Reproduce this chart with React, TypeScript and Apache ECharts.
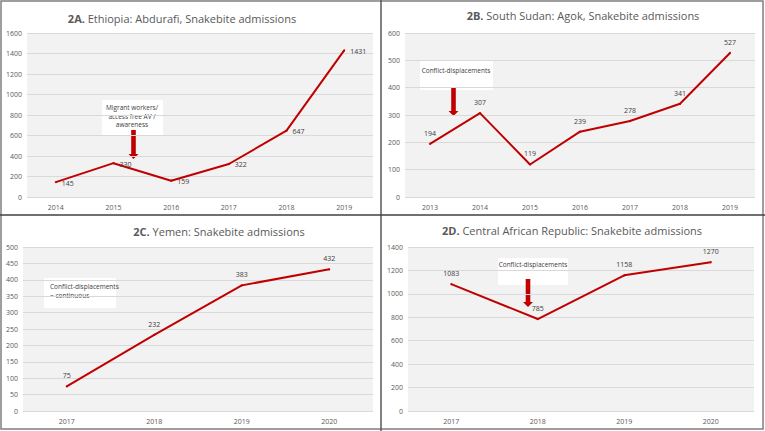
import React, { useEffect, useRef } from "react";
import * as echarts from "echarts";

const yearsA = ["2014", "2015", "2016", "2017", "2018", "2019"];
const valuesA = [145, 330, 159, 322, 647, 1431];
const yearsB = ["2013", "2014", "2015", "2016", "2017", "2018", "2019"];
const valuesB = [194, 307, 119, 239, 278, 341, 527];
const yearsC = ["2017", "2018", "2019", "2020"];
const valuesC = [75, 232, 383, 432];
const yearsD = ["2017", "2018", "2019", "2020"];
const valuesD = [1083, 785, 1158, 1270];

const titleCodes = ["2A.", "2B.", "2C.", "2D."];
const titleTexts = [
  " Ethiopia: Abdurafi, Snakebite admissions",
  " South Sudan: Agok, Snakebite admissions",
  " Yemen: Snakebite admissions",
  " Central African Republic: Snakebite admissions",
];

const RED = "#c00000";
const FONT = "'Open Sans', 'Noto Sans', sans-serif";

export default function App() {
  const ref = useRef<HTMLDivElement>(null);
  useEffect(() => {
    document.body.style.margin = "0";
    const chart = echarts.init(ref.current!, null, { renderer: "svg" });
    const grids = [
      { left: 27, top: 33, width: 346, height: 164 },
      { left: 405, top: 33, width: 350, height: 164 },
      { left: 23, top: 247, width: 350, height: 164 },
      { left: 408, top: 247, width: 346, height: 164 },
    ].map((g) => ({ ...g, show: true, backgroundColor: "#f2f2f2", borderWidth: 0 }));
    const cats = [yearsA, yearsB, yearsC, yearsD];
    const vals = [valuesA, valuesB, valuesC, valuesD];
    const ymax = [1600, 600, 500, 1400];
    const yint = [200, 100, 50, 200];
    const xAxis = cats.map((c, i) => ({
      type: "category",
      gridIndex: i,
      data: c,
      boundaryGap: true,
      axisLine: { show: false },
      axisTick: { show: false },
      axisLabel: { color: "#595959", fontSize: 7, margin: 7, fontFamily: FONT },
    }));
    const yAxis = ymax.map((m, i) => ({
      type: "value",
      gridIndex: i,
      min: 0,
      max: m,
      interval: yint[i],
      axisLine: { show: false },
      axisTick: { show: false },
      axisLabel: {
        color: "#595959",
        fontSize: 7,
        margin: 5,
        fontFamily: FONT,
        formatter: (v: number) => String(v),
      },
      splitLine: { lineStyle: { color: "#d9d9d9", width: 1 } },
    }));
    const series = vals.map((v, i) => ({
      type: "line",
      xAxisIndex: i,
      yAxisIndex: i,
      data: v,
      symbol: "circle",
      symbolSize: 2,
      showSymbol: true,
      showAllSymbol: true,
      itemStyle: { color: RED },
      lineStyle: { color: RED, width: 2 },
      label: {
        show: true,
        position: i === 0 ? "right" : "top",
        distance: i === 0 ? 5 : 6,
        offset: i === 0 ? [0, 1] : [0, 0],
        color: "#404040",
        fontSize: 7,
        fontFamily: FONT,
        opacity: 1,
      },
    }));
    const titlePos = [
      [182, 18],
      [583, 15],
      [219, 231],
      [572, 230],
    ];
    const titles = titlePos.map((p, i) => ({
      type: "text",
      x: p[0],
      y: p[1],
      style: {
        text: `{b|${titleCodes[i]}}{n|${titleTexts[i]}}`,
        align: "center",
        verticalAlign: "middle",
        rich: {
          b: { fontSize: 11, fontWeight: "bold", fill: "#595959", fontFamily: FONT },
          n: { fontSize: 11, fill: "#595959", fontFamily: FONT },
        },
      },
    }));
    const arrow = (cx: number, y0: number, y1: number) => [
      { type: "rect", shape: { x: cx - 2.3, y: y0, width: 4.6, height: y1 - y0 - 4 }, style: { fill: RED } },
      {
        type: "polygon",
        shape: { points: [[cx - 5, y1 - 5], [cx + 5, y1 - 5], [cx, y1]] },
        style: { fill: RED },
      },
    ];
    const noteStyle = { fontSize: 6.5, fill: "#404040", fontFamily: FONT };
    const graphic = [
      ...titles,
      { type: "rect", shape: { x: 102, y: 100, width: 61, height: 35 }, style: { fill: "#ffffff" } },
      {
        type: "text",
        x: 132,
        y: 116,
        style: { ...noteStyle, text: "Migrant workers/\naccess free AV /\nawareness", align: "center", verticalAlign: "middle", lineHeight: 8.5 },
      },
      ...arrow(133.5, 130, 159),
      { type: "rect", shape: { x: 420, y: 60, width: 73, height: 30 }, style: { fill: "#ffffff" } },
      { type: "text", x: 456, y: 70, style: { ...noteStyle, text: "Conflict-displacements", align: "center", verticalAlign: "middle" } },
      ...arrow(453.5, 87, 116),
      { type: "rect", shape: { x: 44, y: 278, width: 72, height: 30 }, style: { fill: "#ffffff" } },
      {
        type: "text",
        x: 50,
        y: 290.5,
        style: { ...noteStyle, text: "Conflict-displacements\n= continuous", align: "left", verticalAlign: "middle", lineHeight: 9 },
      },
      { type: "rect", shape: { x: 498, y: 258, width: 70, height: 27 }, style: { fill: "#ffffff" } },
      { type: "text", x: 533, y: 264, style: { ...noteStyle, text: "Conflict-displacements", align: "center", verticalAlign: "middle" } },
      ...arrow(528, 279, 307),
      { type: "rect", shape: { x: 1, y: 1, width: 762, height: 428 }, style: { fill: "none", stroke: "#7f7f7f", lineWidth: 1.5 } },
      { type: "line", shape: { x1: 381, y1: 0, x2: 381, y2: 431 }, style: { stroke: "#595959", lineWidth: 1.5 } },
      { type: "line", shape: { x1: 0, y1: 215, x2: 765, y2: 215 }, style: { stroke: "#404040", lineWidth: 1.5 } },
    ];
    chart.setOption({
      animation: false,
      backgroundColor: "#ffffff",
      grid: grids,
      xAxis,
      yAxis,
      series,
      graphic,
    } as any);
    return () => chart.dispose();
  }, []);
  return <div ref={ref} style={{ width: 765, height: 431 }} />;
}
